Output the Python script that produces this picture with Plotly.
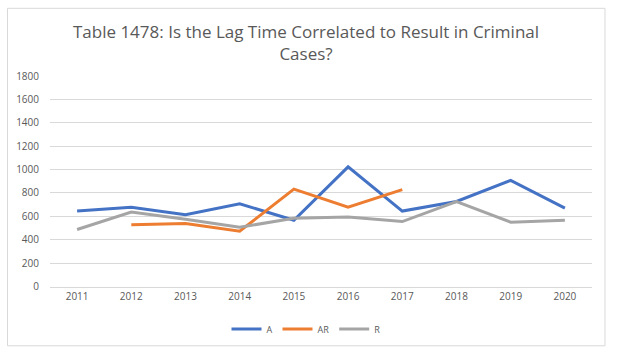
import plotly.graph_objects as go

years = ["2011", "2012", "2013", "2014", "2015", "2016", "2017", "2018", "2019", "2020"]
a_vals = [645, 678, 614, 707, 566, 1023, 645, 727, 907, 670]
ar_vals = [None, 529, 538, 473, 833, 679, 828, None, None, None]
r_vals = [487, 636, 575, 507, 583, 594, 555, 727, 550, 566]
y_ticks = [0, 200, 400, 600, 800, 1000, 1200, 1400, 1600, 1800]

W, H = 619, 357
L, R, T, B = 50, 27, 76, 68

fig = go.Figure()
fig.add_trace(go.Scatter(x=years, y=a_vals, name="A", mode="lines",
                         line=dict(color="#4472C4", width=3)))
fig.add_trace(go.Scatter(x=years, y=ar_vals, name="AR", mode="lines",
                         line=dict(color="#ED7D31", width=3)))
fig.add_trace(go.Scatter(x=years, y=r_vals, name="R", mode="lines",
                         line=dict(color="#A5A5A5", width=3)))

pw = W - L - R
ph = H - T - B
def px_x(x):
    return (x - L) / pw
def px_y(y):
    return (H - B - y) / ph

fig.add_shape(type="rect", xref="paper", yref="paper",
              x0=px_x(7.5), x1=px_x(605), y0=px_y(349), y1=px_y(7.5),
              line=dict(color="#D9D9D9", width=1), fillcolor="rgba(0,0,0,0)", layer="below")

fig.update_layout(
    width=W, height=H,
    margin=dict(l=L, r=R, t=T, b=B),
    paper_bgcolor="white", plot_bgcolor="white",
    font=dict(family="Open Sans, sans-serif", color="#595959", size=10),
    title=dict(text="Table 1478: Is the Lag Time Correlated to Result in Criminal<br>Cases?",
               x=306 / W, xanchor="center", y=1 - 38 / H, yanchor="middle",
               font=dict(size=17, color="#595959", family="Open Sans, sans-serif")),
    showlegend=True,
    legend=dict(orientation="h", x=306 / W, xref="container", xanchor="center",
                y=1 - 329 / H, yref="container", yanchor="middle",
                font=dict(size=9, color="#595959"), itemwidth=30,
                bgcolor="rgba(0,0,0,0)"),
    xaxis=dict(type="category", range=[-0.5, 9.5], showgrid=False,
               showline=True, linecolor="#D9D9D9", linewidth=1,
               ticks="", tickfont=dict(size=10, color="#595959"), fixedrange=True),
    yaxis=dict(range=[0, 1800], tickvals=y_ticks, showgrid=True,
               gridcolor="#D9D9D9", gridwidth=1, zeroline=False, showline=False,
               ticks="outside", ticklen=8, tickcolor="rgba(0,0,0,0)",
               tickfont=dict(size=10, color="#595959")),
)

fig.write_html("out.html", config={"displayModeBar": False},
               post_script="document.body.style.margin='0';")
